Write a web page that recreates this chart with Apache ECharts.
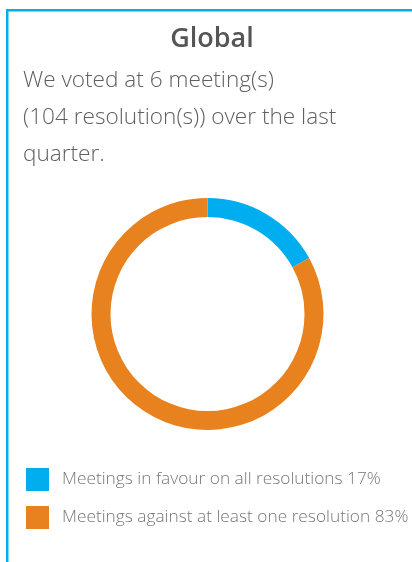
<!DOCTYPE html>
<html>
<head>
<meta charset="utf-8">
<script src="https://cdn.jsdelivr.net/npm/echarts@6/dist/echarts.min.js"></script>
<style>
  html, body { margin: 0; padding: 0; background: #fff; }
  #main { width: 412px; height: 562px; }
</style>
</head>
<body>
<div id="main"></div>
<script>
// data
var categories = ["Meetings in favour on all resolutions", "Meetings against at least one resolution"];
var percents = [17, 83];
var colors = ["#00aeef", "#e8821e"];
var heading = "Global";
var intro = ["We voted at 6 meeting(s)", "(104 resolution(s)) over the last", "quarter."];

var font = "'Open Sans', sans-serif";

var pieData = categories.map(function (name, i) {
  return { name: name, value: percents[i], itemStyle: { color: colors[i] } };
});

var myChart = echarts.init(document.getElementById("main"));
myChart.setOption({
  animation: false,
  title: [
    {
      text: heading,
      left: 212,
      textAlign: "center",
      top: 24,
      padding: 0,
      textStyle: { fontFamily: font, fontSize: 27, fontWeight: 600, color: "#555", lineHeight: 30 }
    },
    {
      text: intro.join("\n"),
      left: 23,
      top: 62,
      padding: 0,
      textStyle: { fontFamily: font, fontSize: 22.6, fontWeight: 300, color: "#5f5f5f", lineHeight: 37 }
    }
  ],
  legend: {
    orient: "vertical",
    left: 26,
    top: 468,
    padding: 0,
    icon: "rect",
    itemWidth: 23,
    itemHeight: 23,
    itemGap: 15,
    selectedMode: false,
    formatter: function (name) {
      return name + " " + percents[categories.indexOf(name)] + "%";
    },
    textStyle: { fontFamily: font, fontSize: 17.3, fontWeight: 300, color: "#777", padding: [0, 0, 0, 8] }
  },
  graphic: [
    { type: "rect", shape: { x: 6, y: 9, width: 406, height: 2.5 }, style: { fill: "#00aeef" } },
    { type: "rect", shape: { x: 6, y: 9, width: 2.5, height: 553 }, style: { fill: "#00aeef" } }
  ],
  series: [
    {
      type: "pie",
      center: [207.5, 314],
      radius: [97, 116],
      startAngle: 90,
      label: { show: false },
      labelLine: { show: false },
      emphasis: { disabled: true },
      data: pieData
    }
  ]
});
</script>
</body>
</html>
